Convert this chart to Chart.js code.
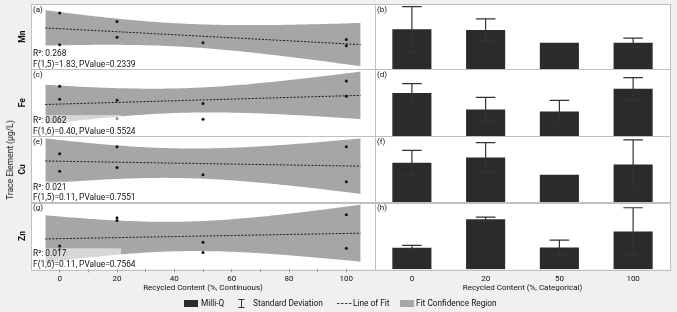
<!DOCTYPE html>
<html>
<head>
<meta charset="utf-8">
<script src="https://cdn.jsdelivr.net/npm/chart.js@4.4.1/dist/chart.umd.min.js"></script>
<style>
  html, body { margin: 0; padding: 0; background: #f0f0f0; }
  #wrap { position: relative; width: 677px; height: 312px; font-family: Roboto, sans-serif; color: #111; }
  #wrap canvas { position: absolute; left: 0; top: 0; }
  .ytitle { position: absolute; left: 10px; top: 160px; transform: translate(-50%, -50%) rotate(-90deg); font-size: 8.5px; white-space: nowrap; }
  .legend span, .legend svg { position: absolute; }
  .legend span { top: 297px; font-size: 8.3px; line-height: 12px; white-space: nowrap; }
</style>
</head>
<body>
<div id="wrap">
  <canvas id="traceChart" width="677" height="312"></canvas>
  <div class="ytitle">Trace Element (µg/L)</div>
  <div class="legend">
    <svg style="left:184px;top:300px" width="14" height="7"><rect width="14" height="7" fill="#2b2b2b"/></svg>
    <span style="left:201px">Milli-Q</span>
    <svg style="left:238px;top:299px" width="7" height="9"><path d="M0.5 0.5H6.5M3.5 0.5V8.5M0.5 8.5H6.5" stroke="#333" stroke-width="1" fill="none"/></svg>
    <span style="left:253px">Standard Deviation</span>
    <svg style="left:337px;top:300px" width="15" height="6"><line x1="0" y1="3.5" x2="15" y2="3.5" stroke="#333" stroke-width="1.2" stroke-dasharray="2.5,1.5"/></svg>
    <span style="left:353px">Line of Fit</span>
    <svg style="left:400px;top:300px" width="14" height="7"><rect width="14" height="7" fill="#a6a6a6"/></svg>
    <span style="left:416px">Fit Confidence Region</span>
  </div>
</div>
<script>
// rows top to bottom
const elements = ['Mn', 'Fe', 'Cu', 'Zn'];
const panelLeft = ['(a)', '(c)', '(e)', '(g)'];
const panelRight = ['(b)', '(d)', '(f)', '(h)'];
const categories = ['0', '20', '50', '100'];

// individual samples (recycled content %, concentration)
const mnX = [0, 0, 20, 20, 50, 100, 100];
const mnY = [56.6, 24.6, 48, 32.3, 26.6, 30, 23.6];
const feX = [0, 0, 20, 20, 50, 50, 100, 100];
const feY = [50, 37, 36, 17.6, 32.6, 17, 55.3, 40];
const cuX = [0, 0, 20, 20, 50, 100, 100];
const cuY = [49, 31.3, 56, 35.3, 28, 56, 21];
const znX = [0, 0, 20, 20, 50, 50, 100, 100];
const znY = [23.4, 19.8, 51.8, 48.9, 27.2, 16.8, 54.8, 21.2];

// bar means and standard deviations per category (null = single sample)
const mnMean = [40.3, 39.6, 26.6, 26.8];
const mnSd = [22.7, 11, null, 4.5];
const feMean = [43.3, 26.6, 24.6, 47.6];
const feSd = [9.3, 12.3, 11.2, 11];
const cuMean = [40, 45.3, 28, 38.3];
const cuSd = [12.3, 14.85, null, 24.7];
const znMean = [21.6, 50.3, 22, 38];
const znSd = [2.5, 2, 7.35, 23.8];

// fit statistics shown in the panels
const rSquare = ['0.268', '0.062', '0.021', '0.017'];
const fTest = ['F(1,5)=1.83, PValue=0.2339', 'F(1,6)=0.40, PValue=0.5524',
               'F(1,5)=0.11, PValue=0.7551', 'F(1,6)=0.11, PValue=0.7564'];

const rowX = [mnX, feX, cuX, znX];
const rowY = [mnY, feY, cuY, znY];
const rowMean = [mnMean, feMean, cuMean, znMean];
const rowSd = [mnSd, feSd, cuSd, znSd];
const rowHeight = [65.6, 67, 66.7, 67];

const tCrit = { 5: 2.571, 6: 2.447 }; // 95% two-sided

// least squares line + confidence band of the mean
function linFit(xs, ys) {
    const n = xs.length;
    const mx = xs.reduce((a, b) => a + b, 0) / n;
    const my = ys.reduce((a, b) => a + b, 0) / n;
    let sxx = 0, sxy = 0;
    xs.forEach((x, k) => { sxx += (x - mx) ** 2; sxy += (x - mx) * (ys[k] - my); });
    const b = sxy / sxx, a = my - b * mx;
    let sse = 0;
    xs.forEach((x, k) => { sse += (ys[k] - (a + b * x)) ** 2; });
    const s = Math.sqrt(sse / (n - 2));
    return {
        at: x => a + b * x,
        half: x => tCrit[n - 2] * s * Math.sqrt(1 / n + (x - mx) ** 2 / sxx)
    };
}

const bandX = [];
for (let x = -5; x <= 105; x += 1) bandX.push(x);

const datasets = [];
elements.forEach((el, i) => {
    const yId = 'y' + i;
    const fit = linFit(rowX[i], rowY[i]);
    datasets.push({
        type: 'scatter', xAxisID: 'x1', yAxisID: yId,
        data: rowX[i].map((x, k) => ({ x, y: rowY[i][k] })),
        pointRadius: 1.5, pointBorderWidth: 0, pointBackgroundColor: '#111'
    });
    datasets.push({
        type: 'line', xAxisID: 'x1', yAxisID: yId,
        data: [-5, 105].map(x => ({ x, y: fit.at(x) })),
        borderColor: '#1a1a1a', borderWidth: 1, borderDash: [2, 1.5], pointRadius: 0
    });
    datasets.push({
        type: 'line', xAxisID: 'x1', yAxisID: yId,
        data: bandX.map(x => ({ x, y: fit.at(x) + fit.half(x) })),
        borderColor: 'transparent', borderWidth: 0, pointRadius: 0,
        fill: '+1', backgroundColor: '#a6a6a6'
    });
    datasets.push({
        type: 'line', xAxisID: 'x1', yAxisID: yId,
        data: bandX.map(x => ({ x, y: fit.at(x) - fit.half(x) })),
        borderColor: 'transparent', borderWidth: 0, pointRadius: 0, fill: false
    });
    datasets.push({
        type: 'bar', xAxisID: 'x2', yAxisID: yId, rowIndex: i,
        data: rowMean[i], backgroundColor: '#2b2b2b', borderWidth: 0,
        grouped: false, barPercentage: 0.53, categoryPercentage: 1
    });
});

const tickFont = { family: 'Roboto', size: 8 };
const scales = {
    x1: {
        type: 'linear', position: 'bottom', stack: 'cols', stackWeight: 344, weight: 1,
        min: -10, max: 110,
        afterBuildTicks: s => { s.ticks = s.ticks.filter(t => t.value >= 0 && t.value <= 100); },
        afterFit: s => { s.height = 23.2; },
        ticks: { stepSize: 10, autoSkip: false, maxRotation: 0, minRotation: 0, padding: 1.5,
                 color: '#111', font: tickFont,
                 callback: v => (v % 20 === 0 ? v : '') },
        grid: { drawOnChartArea: false, tickLength: 3, color: '#8a8a8a' },
        border: { display: false },
        title: { display: true, text: 'Recycled Content (%, Continuous)', color: '#111',
                 font: tickFont, padding: 0 }
    },
    x2: {
        type: 'category', position: 'bottom', stack: 'cols', stackWeight: 295, weight: 2,
        labels: categories, offset: true,
        afterFit: s => { s.height = 23.2; },
        ticks: { autoSkip: false, maxRotation: 0, minRotation: 0, padding: 1.5,
                 color: '#111', font: tickFont },
        grid: { drawOnChartArea: false, tickLength: 3, color: 'transparent' },
        border: { display: false },
        title: { display: true, text: 'Recycled Content (%, Categorical)', color: '#111',
                 font: tickFont, padding: 0 }
    }
};
elements.forEach((el, i) => {
    scales['y' + i] = {
        type: 'linear', position: 'left', stack: 'rows', stackWeight: rowHeight[i], weight: 4 - i,
        min: 0, max: rowHeight[i],
        afterFit: s => { s.width = 17; },
        ticks: { display: false },
        grid: { display: false },
        border: { display: false },
        title: { display: true, text: el, color: '#111', font: { family: 'Roboto', size: 8.5, weight: 'bold' } }
    };
});

// white plot area, error bars, stats boxes, panel labels and frames
const panelDecor = {
    id: 'panelDecor',
    beforeDraw(chart) {
        const { ctx, chartArea: a } = chart;
        ctx.save();
        ctx.fillStyle = '#fff';
        ctx.fillRect(a.left, a.top, a.right - a.left, a.bottom - a.top);
        ctx.restore();
    },
    afterDatasetsDraw(chart) {
        const { ctx } = chart;
        const x1 = chart.scales.x1, x2 = chart.scales.x2;
        ctx.save();
        chart.data.datasets.forEach((ds, di) => {
            if (ds.type !== 'bar') return;
            const i = ds.rowIndex, ys = chart.scales['y' + i];
            const meta = chart.getDatasetMeta(di);
            ctx.strokeStyle = '#333';
            ctx.lineWidth = 1.2;
            meta.data.forEach((bar, j) => {
                const sd = rowSd[i][j];
                if (sd == null) return;
                const top = ys.getPixelForValue(rowMean[i][j] + sd);
                const bot = ys.getPixelForValue(rowMean[i][j] - sd);
                const hw = bar.width * 0.25;
                ctx.beginPath();
                ctx.moveTo(bar.x, top); ctx.lineTo(bar.x, bot);
                ctx.moveTo(bar.x - hw, top); ctx.lineTo(bar.x + hw, top);
                ctx.moveTo(bar.x - hw, bot); ctx.lineTo(bar.x + hw, bot);
                ctx.stroke();
            });
        });

        ctx.textBaseline = 'middle';
        elements.forEach((el, i) => {
            const ys = chart.scales['y' + i];
            // translucent box behind the fit statistics
            ctx.fillStyle = 'rgba(255,255,255,0.55)';
            ctx.fillRect(x1.left, ys.bottom - 21, 90, 21);
            ctx.fillStyle = '#111';
            ctx.font = '8.4px Roboto';
            ctx.fillText('R²: ' + rSquare[i], x1.left + 2, ys.bottom - 15);
            ctx.fillText(fTest[i], x1.left + 2, ys.bottom - 4.6);
            ctx.font = '8px Roboto';
            ctx.fillText(panelLeft[i], x1.left + 2, ys.top + 5.5);
            ctx.fillText(panelRight[i], x2.left + 2, ys.top + 5.5);

            ctx.strokeStyle = '#c0c0c0';
            ctx.lineWidth = 1;
            [x1, x2].forEach(xs => {
                ctx.strokeRect(Math.round(xs.left) + 0.5, Math.round(ys.top) + 0.5,
                    Math.round(xs.right - xs.left), Math.round(ys.bottom - ys.top));
            });
        });
        ctx.restore();
    }
};

new Chart(document.getElementById('traceChart'), {
    type: 'scatter',
    data: { labels: categories, datasets },
    options: {
        responsive: false,
        animation: false,
        layout: { padding: { left: 14, right: 7, top: 2.5, bottom: 19.5 } },
        plugins: { legend: { display: false }, tooltip: { enabled: false } },
        scales
    },
    plugins: [panelDecor]
});
</script>
</body>
</html>
